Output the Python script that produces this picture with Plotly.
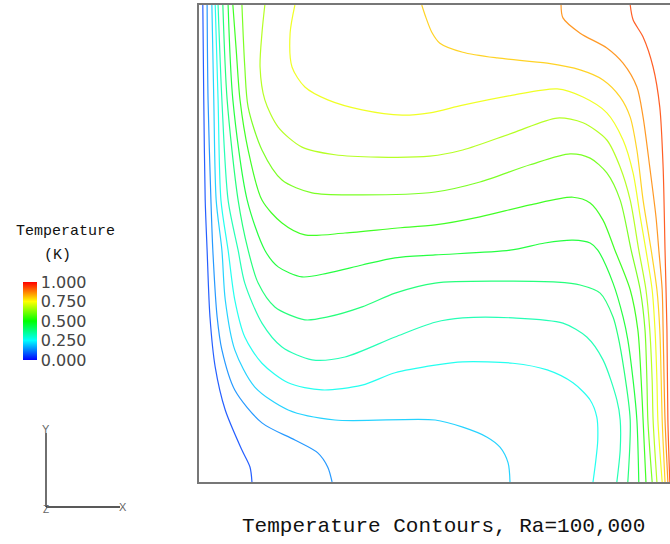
import plotly.graph_objects as go
from plotly.colors import sample_colorscale

# Isotherm levels (non-dimensional temperature)
LEVELS = [0.067, 0.133, 0.200, 0.267, 0.333, 0.400, 0.467,
          0.533, 0.600, 0.667, 0.733, 0.800, 0.867, 0.933]

# Isotherm paths (x/L, y/L)
A_X = [0.008, 0.010, 0.013, 0.017, 0.023, 0.034, 0.055, 0.090, 0.107, 0.111]
A_Y = [1.0, 0.801, 0.591, 0.486, 0.346, 0.241, 0.151, 0.067, 0.031, 0.0]

B_X = [0.017, 0.019, 0.025, 0.029, 0.038, 0.048, 0.075, 0.132, 0.201, 0.249, 0.270, 0.279]
B_Y = [1.0, 0.801, 0.591, 0.486, 0.346, 0.277, 0.193, 0.124, 0.088, 0.061, 0.031, 0.0]

C_X = [0.027, 0.031, 0.036, 0.048, 0.055, 0.075, 0.117, 0.187, 0.285, 0.495, 0.553, 0.604, 0.631, 0.648, 0.652]
C_Y = [1.0, 0.801, 0.591, 0.486, 0.382, 0.277, 0.199, 0.151, 0.130, 0.130, 0.115, 0.094, 0.073, 0.040, 0.0]

D_X = [0.034, 0.040, 0.046, 0.061, 0.075, 0.096, 0.132, 0.187, 0.258, 0.342, 0.411, 0.495, 0.553, 0.658,
       0.730, 0.784, 0.820, 0.834, 0.836, 0.832, 0.826]
D_Y = [1.0, 0.801, 0.591, 0.486, 0.382, 0.304, 0.249, 0.208, 0.193, 0.203, 0.229, 0.245, 0.252, 0.249,
       0.235, 0.208, 0.172, 0.136, 0.088, 0.046, 0.0]

E_X = [0.040, 0.048, 0.061, 0.082, 0.096, 0.132, 0.174, 0.237, 0.306, 0.411, 0.495, 0.553, 0.658, 0.763,
       0.813, 0.847, 0.876, 0.883, 0.883, 0.876]
E_Y = [1.0, 0.801, 0.591, 0.486, 0.417, 0.333, 0.283, 0.256, 0.262, 0.304, 0.335, 0.344, 0.344, 0.333,
       0.304, 0.256, 0.172, 0.130, 0.067, 0.0]

F_X = [0.050, 0.059, 0.082, 0.103, 0.124, 0.159, 0.222, 0.270, 0.342, 0.411, 0.495, 0.631, 0.751, 0.799,
       0.841, 0.868, 0.878, 0.891, 0.904, 0.899]
F_Y = [1.0, 0.801, 0.591, 0.486, 0.417, 0.367, 0.340, 0.346, 0.367, 0.396, 0.417, 0.421, 0.419, 0.413,
       0.396, 0.346, 0.308, 0.235, 0.130, 0.0]

G_X = [0.061, 0.071, 0.101, 0.138, 0.166, 0.216, 0.270, 0.342, 0.411, 0.495, 0.652, 0.725, 0.784, 0.820,
       0.836, 0.868, 0.889, 0.899, 0.910, 0.918, 0.922]
G_Y = [1.0, 0.801, 0.591, 0.486, 0.451, 0.430, 0.438, 0.455, 0.470, 0.476, 0.486, 0.501, 0.507, 0.501,
       0.486, 0.417, 0.346, 0.298, 0.214, 0.130, 0.0]

H_X = [0.071, 0.078, 0.086, 0.103, 0.132, 0.174, 0.222, 0.306, 0.411, 0.495, 0.589, 0.694, 0.784, 0.820,
       0.847, 0.872, 0.904, 0.920, 0.927, 0.931, 0.937]
H_Y = [1.0, 0.906, 0.801, 0.696, 0.591, 0.543, 0.518, 0.522, 0.532, 0.539, 0.556, 0.581, 0.597, 0.585,
       0.549, 0.486, 0.403, 0.319, 0.214, 0.130, 0.0]

I_X = [0.090, 0.096, 0.103, 0.132, 0.174, 0.237, 0.342, 0.495, 0.589, 0.694, 0.778, 0.820, 0.855, 0.883,
       0.906, 0.925, 0.935, 0.939, 0.941, 0.950]
I_Y = [1.0, 0.870, 0.786, 0.696, 0.633, 0.606, 0.602, 0.608, 0.629, 0.665, 0.688, 0.679, 0.648, 0.591,
       0.486, 0.403, 0.319, 0.214, 0.130, 0.0]

J_X = [0.138, 0.132, 0.128, 0.138, 0.166, 0.216, 0.285, 0.375, 0.484, 0.553, 0.658, 0.751, 0.805, 0.855,
       0.883, 0.904, 0.922, 0.937, 0.945, 0.950, 0.952, 0.960]
J_Y = [1.0, 0.941, 0.870, 0.801, 0.744, 0.702, 0.686, 0.681, 0.683, 0.696, 0.732, 0.763, 0.753, 0.717,
       0.660, 0.591, 0.486, 0.403, 0.319, 0.214, 0.130, 0.0]

K_X = [0.201, 0.191, 0.195, 0.222, 0.270, 0.342, 0.426, 0.484, 0.553, 0.658, 0.751, 0.805, 0.855, 0.889,
       0.910, 0.925, 0.937, 0.950, 0.956, 0.960, 0.962, 0.971]
K_Y = [1.0, 0.941, 0.870, 0.828, 0.801, 0.780, 0.769, 0.774, 0.790, 0.811, 0.824, 0.807, 0.774, 0.717,
       0.648, 0.556, 0.486, 0.403, 0.319, 0.214, 0.130, 0.0]

L_X = [0.467, 0.476, 0.488, 0.505, 0.553, 0.625, 0.730, 0.799, 0.847, 0.883, 0.904, 0.918, 0.931, 0.948,
       0.960, 0.966, 0.969, 0.971, 0.977]
L_Y = [1.0, 0.973, 0.943, 0.920, 0.901, 0.889, 0.878, 0.864, 0.843, 0.807, 0.765, 0.696, 0.591, 0.486,
       0.403, 0.319, 0.214, 0.130, 0.0]

M_X = [0.759, 0.763, 0.799, 0.855, 0.889, 0.918, 0.931, 0.945, 0.958, 0.964, 0.971, 0.973, 0.975, 0.977, 0.983]
M_Y = [1.0, 0.973, 0.941, 0.910, 0.878, 0.828, 0.765, 0.660, 0.556, 0.486, 0.403, 0.319, 0.214, 0.130, 0.0]

N_X = [0.904, 0.910, 0.931, 0.952, 0.966, 0.973, 0.977, 0.981, 0.983, 0.987]
N_Y = [1.0, 0.969, 0.933, 0.870, 0.786, 0.660, 0.486, 0.319, 0.130, 0.0]

PATHS = [(A_X, A_Y), (B_X, B_Y), (C_X, C_Y), (D_X, D_Y), (E_X, E_Y), (F_X, F_Y), (G_X, G_Y),
         (H_X, H_Y), (I_X, I_Y), (J_X, J_Y), (K_X, K_Y), (L_X, L_Y), (M_X, M_Y), (N_X, N_Y)]

CBAR_TICKS = [0.0, 0.25, 0.5, 0.75, 1.0]
CBAR_LABELS = ["0.000", "0.250", "0.500", "0.750", "1.000"]

COLORSCALE = [[0.0, "rgb(0,0,255)"], [0.25, "rgb(0,255,255)"], [0.5, "rgb(0,255,0)"],
              [0.75, "rgb(255,255,0)"], [1.0, "rgb(255,0,0)"]]

W, H = 670, 544
L, R, T, B = 199, 0, 5, 62
pw, ph = W - L - R, H - T - B


def px_x(p):
    return (p - L) / pw


def px_y(p):
    return (H - B - p) / ph


fig = go.Figure()
for lev, (xs, ys) in zip(LEVELS, PATHS):
    col = sample_colorscale(COLORSCALE, [lev])[0]
    fig.add_trace(go.Scatter(
        x=xs, y=ys, mode="lines",
        line=dict(color=col, width=1.2, shape="spline", smoothing=0.8),
        opacity=0.85, hoverinfo="skip", showlegend=False))

fig.add_trace(go.Scatter(
    x=[None], y=[None], mode="markers", showlegend=False, hoverinfo="skip",
    marker=dict(color=[0.0, 1.0], cmin=0, cmax=1, colorscale=COLORSCALE, showscale=True,
                colorbar=dict(xref="paper", yref="paper",
                              x=px_x(23), xanchor="left", y=px_y(321), yanchor="middle",
                              len=78, lenmode="pixels", thickness=14, thicknessmode="pixels",
                              outlinewidth=0, tickvals=CBAR_TICKS, ticktext=CBAR_LABELS,
                              ticks="", xpad=0, ypad=0,
                              tickfont=dict(family="DejaVu Sans", size=16, color="#444"))),
))

fig.update_layout(
    width=W, height=H,
    margin=dict(l=L, r=R, t=T, b=B),
    paper_bgcolor="white", plot_bgcolor="white",
    xaxis=dict(range=[0, pw / ph], showgrid=False, zeroline=False, showticklabels=False,
               ticks="", showline=True, linecolor="#777", linewidth=2, mirror=True, fixedrange=True),
    yaxis=dict(range=[0, 1], showgrid=False, zeroline=False, showticklabels=False,
               ticks="", showline=True, linecolor="#777", linewidth=2, mirror=False, fixedrange=True),
    annotations=[
        dict(text="Temperature Contours, Ra=100,000", xref="paper", yref="paper",
             x=px_x(443), y=px_y(526), xanchor="center", yanchor="middle", showarrow=False,
             font=dict(family="Liberation Mono", size=21, color="#111")),
        dict(text="Temperature", xref="paper", yref="paper",
             x=px_x(65), y=px_y(232), xanchor="center", yanchor="middle", showarrow=False,
             font=dict(family="Liberation Mono", size=15, color="#111")),
        dict(text="(K)", xref="paper", yref="paper",
             x=px_x(57), y=px_y(256), xanchor="center", yanchor="middle", showarrow=False,
             font=dict(family="Liberation Mono", size=15, color="#111")),
        dict(text="Y", xref="paper", yref="paper", x=px_x(46), y=px_y(429),
             xanchor="center", yanchor="middle", showarrow=False,
             font=dict(family="Liberation Sans", size=11, color="#666")),
        dict(text="X", xref="paper", yref="paper", x=px_x(123), y=px_y(507),
             xanchor="center", yanchor="middle", showarrow=False,
             font=dict(family="Liberation Sans", size=11, color="#666")),
        dict(text="Z", xref="paper", yref="paper", x=px_x(46), y=px_y(510),
             xanchor="center", yanchor="middle", showarrow=False,
             font=dict(family="Liberation Sans", size=10, color="#666")),
    ],
    shapes=[
        dict(type="line", xref="paper", yref="paper", x0=px_x(46), x1=px_x(46),
             y0=px_y(433), y1=px_y(507), line=dict(color="#222", width=1.3)),
        dict(type="line", xref="paper", yref="paper", x0=px_x(46), x1=px_x(120),
             y0=px_y(507), y1=px_y(507), line=dict(color="#222", width=1.3)),
    ],
)

fig.write_html("out.html", config={"displayModeBar": False},
               post_script="document.body.style.margin='0';")
